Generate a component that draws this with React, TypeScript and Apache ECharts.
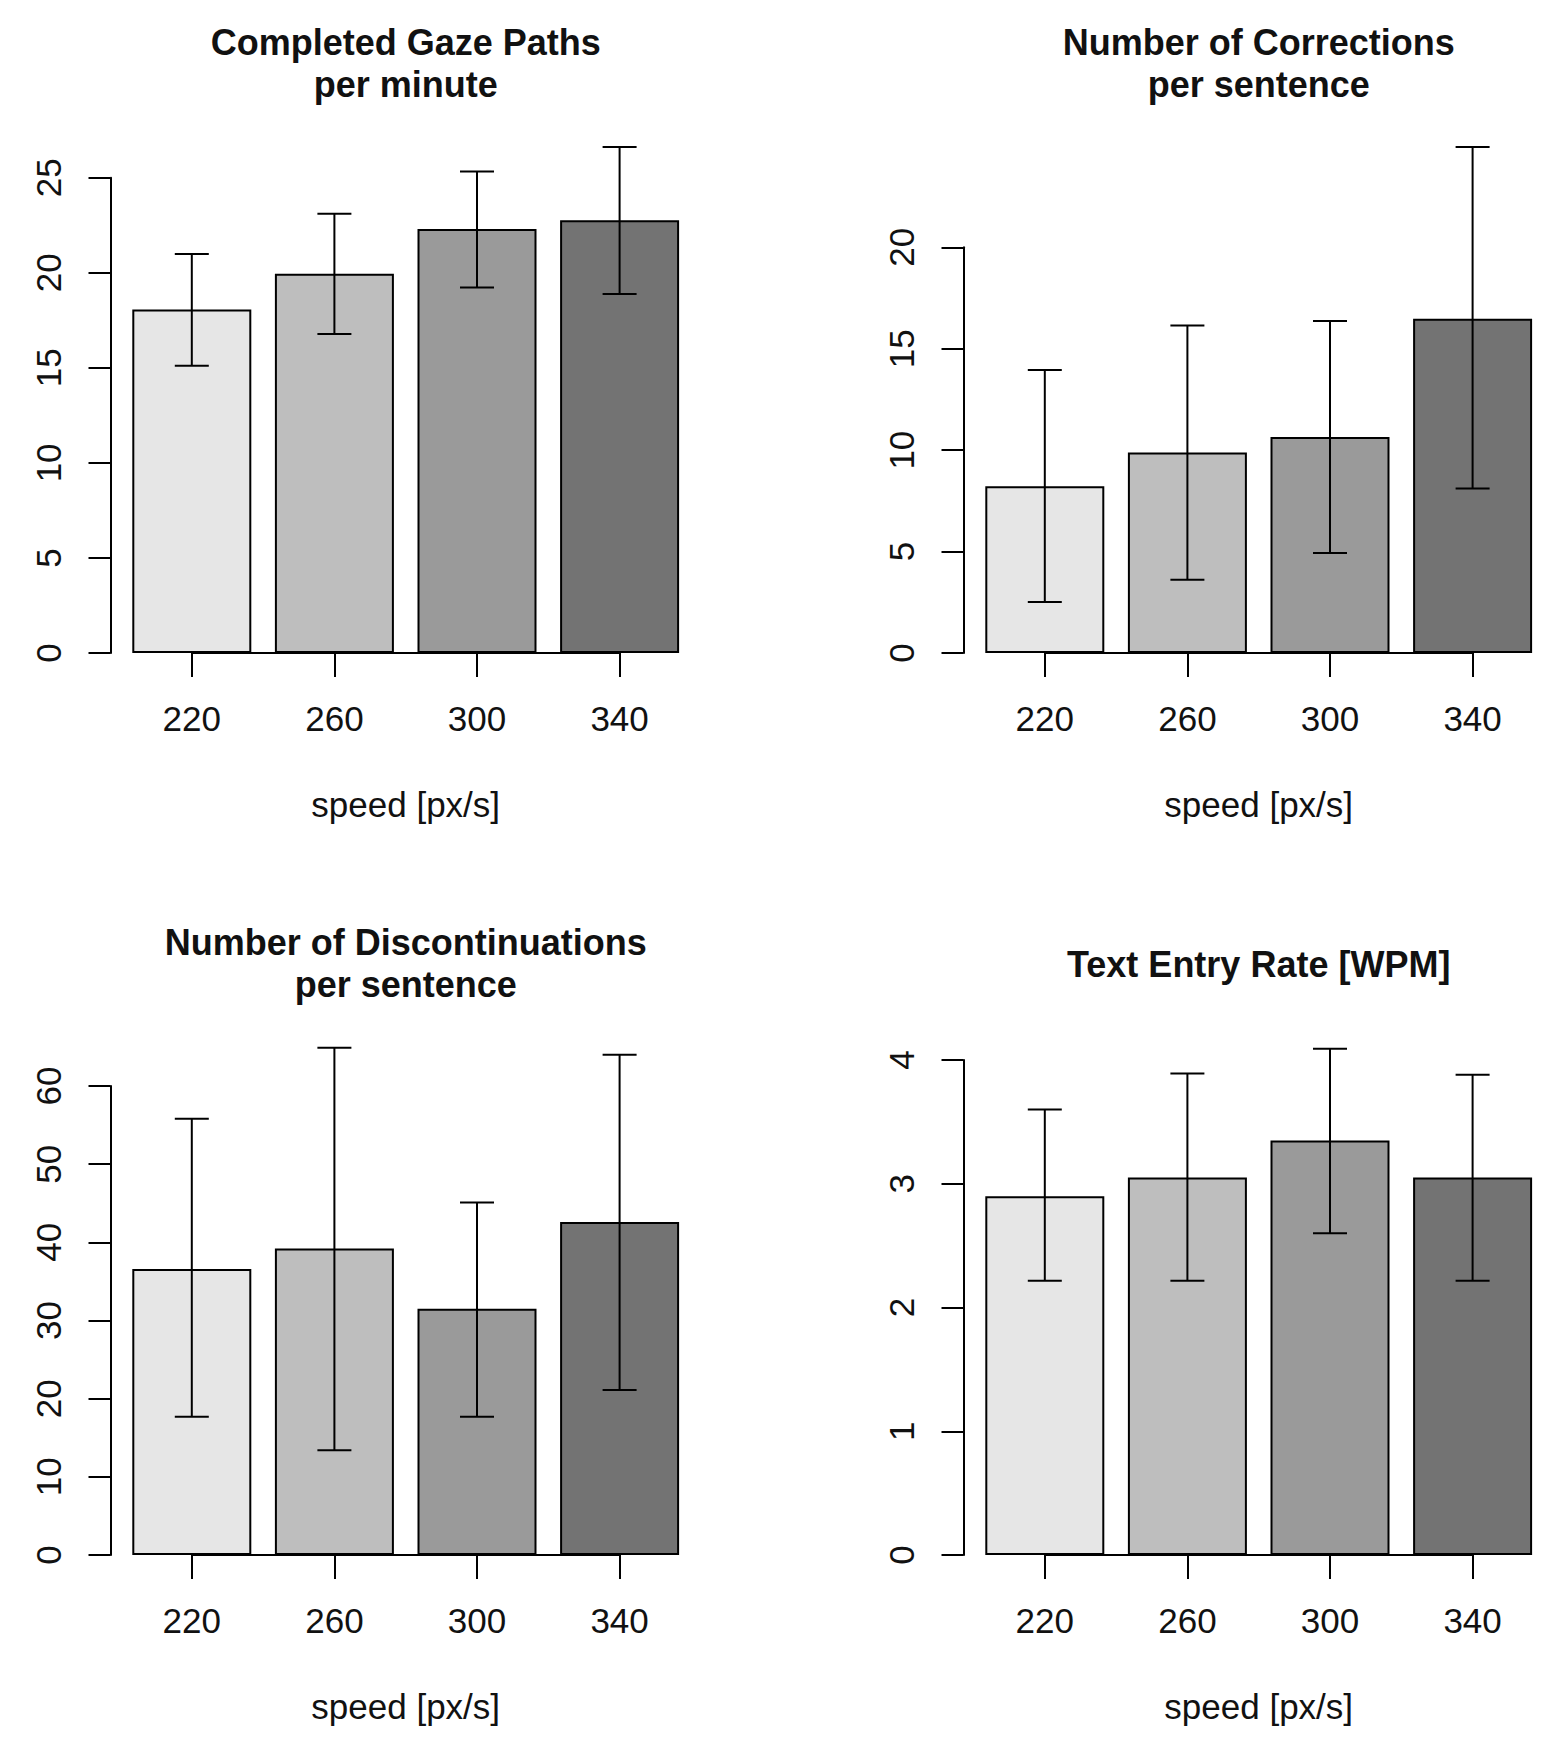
import React, { useEffect, useRef } from "react";
import * as echarts from "echarts";

// ---------- data ----------
const CATEGORIES = ["220", "260", "300", "340"];
const BAR_COLORS = ["#E6E6E6", "#BEBEBE", "#9A9A9A", "#737373"];

// Panel 1: Completed Gaze Paths per minute
const GAZE_MEAN = [18.07, 19.95, 22.3, 22.76];
const GAZE_LO = [15.11, 16.78, 19.22, 18.88];
const GAZE_HI = [20.99, 23.1, 25.33, 26.62];

// Panel 2: Number of Corrections per sentence
const CORR_MEAN = [8.22, 9.88, 10.65, 16.48];
const CORR_LO = [2.51, 3.61, 4.93, 8.11];
const CORR_HI = [13.95, 16.15, 16.37, 24.95];

// Panel 3: Number of Discontinuations per sentence
const DISC_MEAN = [36.6, 39.2, 31.5, 42.6];
const DISC_LO = [17.7, 13.4, 17.7, 21.1];
const DISC_HI = [55.8, 64.9, 45.1, 64.0];

// Panel 4: Text Entry Rate [WPM]
const WPM_MEAN = [2.9, 3.05, 3.35, 3.05];
const WPM_LO = [2.216, 2.216, 2.6, 2.216];
const WPM_HI = [3.6, 3.89, 4.09, 3.88];

const TITLES = [
  "Completed Gaze Paths\nper minute",
  "Number of Corrections\nper sentence",
  "Number of Discontinuations\nper sentence",
  "Text Entry Rate [WPM]",
];
const Y_MAX = [25, 20, 60, 4];
const Y_STEP = [5, 5, 10, 1];
const X_NAME = "speed [px/s]";

// ---------- layout ----------
const FONT = "'Liberation Sans', Arial, Helvetica, sans-serif";
const BAND = 142.6;
const GRID_W = BAND * 4;
const COL_LEFT = [120.5, 973.5];
const PANELS = [
  { col: 0, top: 177.7, bottom: 653 },
  { col: 1, top: 247.3, bottom: 653 },
  { col: 0, top: 1086, bottom: 1555 },
  { col: 1, top: 1060, bottom: 1555 },
];
const TITLE_Y = [63, 63, 963, 964];

const MEANS = [GAZE_MEAN, CORR_MEAN, DISC_MEAN, WPM_MEAN];
const LOS = [GAZE_LO, CORR_LO, DISC_LO, WPM_LO];
const HIS = [GAZE_HI, CORR_HI, DISC_HI, WPM_HI];

const TEXT_COLOR = "#111";

export default function App() {
  const ref = useRef<HTMLDivElement>(null);

  useEffect(() => {
    if (!ref.current) return;
    const chart = echarts.init(ref.current, undefined, { renderer: "svg" });

    const grids: any[] = [];
    const xAxes: any[] = [];
    const yAxes: any[] = [];
    const series: any[] = [];
    const graphics: any[] = [];

    PANELS.forEach((p, i) => {
      const left = COL_LEFT[p.col];
      grids.push({
        left,
        top: p.top,
        width: GRID_W,
        height: p.bottom - p.top,
        containLabel: false,
        outerBoundsMode: "none",
      });
      xAxes.push({
        type: "category",
        gridIndex: i,
        data: CATEGORIES,
        boundaryGap: true,
        axisLine: { show: false },
        axisTick: {
          show: true,
          alignWithLabel: true,
          length: 24,
          lineStyle: { color: "#000", width: 2 },
        },
        axisLabel: {
          fontSize: 35,
          fontFamily: FONT,
          color: TEXT_COLOR,
          margin: 48,
        },
        splitLine: { show: false },
        name: X_NAME,
        nameLocation: "middle",
        nameGap: 134,
        nameTextStyle: { fontSize: 35, fontFamily: FONT, color: TEXT_COLOR },
      });
      yAxes.push({
        type: "value",
        gridIndex: i,
        min: 0,
        max: Y_MAX[i],
        interval: Y_STEP[i],
        offset: 10,
        axisLine: { show: true, lineStyle: { color: "#000", width: 2 } },
        axisTick: { show: true, length: 22, lineStyle: { color: "#000", width: 2 } },
        axisLabel: {
          rotate: 90,
          fontSize: 35,
          fontFamily: FONT,
          color: TEXT_COLOR,
          margin: 45,
        },
        splitLine: { show: false },
      });
      series.push({
        type: "bar",
        xAxisIndex: i,
        yAxisIndex: i,
        barWidth: 119,
        data: MEANS[i].map((v, k) => ({
          value: v,
          itemStyle: { color: BAR_COLORS[k], borderColor: "#000", borderWidth: 2 },
        })),
        markLine: {
          silent: true,
          symbol: "none",
          label: { show: false },
          lineStyle: { color: "#000", width: 2, type: "solid" },
          data: [
            [
              { coord: [CATEGORIES[0], 0] },
              { coord: [CATEGORIES[CATEGORIES.length - 1], 0] },
            ],
          ],
          z: 1,
        },
        z: 2,
      });
      series.push({
        type: "custom",
        xAxisIndex: i,
        yAxisIndex: i,
        clip: false,
        z: 5,
        encode: { x: 0, y: [1, 2] },
        data: CATEGORIES.map((_, k) => [k, LOS[i][k], HIS[i][k]]),
        renderItem: (params: any, api: any) => {
          const x = api.value(0);
          const lo = api.value(1);
          const hi = api.value(2);
          const pLo = api.coord([x, lo]);
          const pHi = api.coord([x, hi]);
          const hw = 17;
          const style = { stroke: "#000", lineWidth: 2 };
          return {
            type: "group",
            children: [
              { type: "line", shape: { x1: pLo[0], y1: pLo[1], x2: pHi[0], y2: pHi[1] }, style },
              { type: "line", shape: { x1: pLo[0] - hw, y1: pLo[1], x2: pLo[0] + hw, y2: pLo[1] }, style },
              { type: "line", shape: { x1: pHi[0] - hw, y1: pHi[1], x2: pHi[0] + hw, y2: pHi[1] }, style },
            ],
          };
        },
      });
      graphics.push({
        type: "text",
        x: left + GRID_W / 2,
        y: TITLE_Y[i],
        style: {
          text: TITLES[i],
          font: `bold 36px ${FONT}`,
          fill: "#111",
          textAlign: "center",
          textVerticalAlign: "middle",
          lineHeight: 42,
        },
      });
    });

    chart.setOption({
      animation: false,
      backgroundColor: "#fff",
      grid: grids,
      xAxis: xAxes,
      yAxis: yAxes,
      series,
      graphic: graphics,
    });

    return () => chart.dispose();
  }, []);

  return (
    <div
      ref={ref}
      style={{ position: "absolute", left: 0, top: 0, width: 1560, height: 1750, background: "#fff" }}
    />
  );
}
